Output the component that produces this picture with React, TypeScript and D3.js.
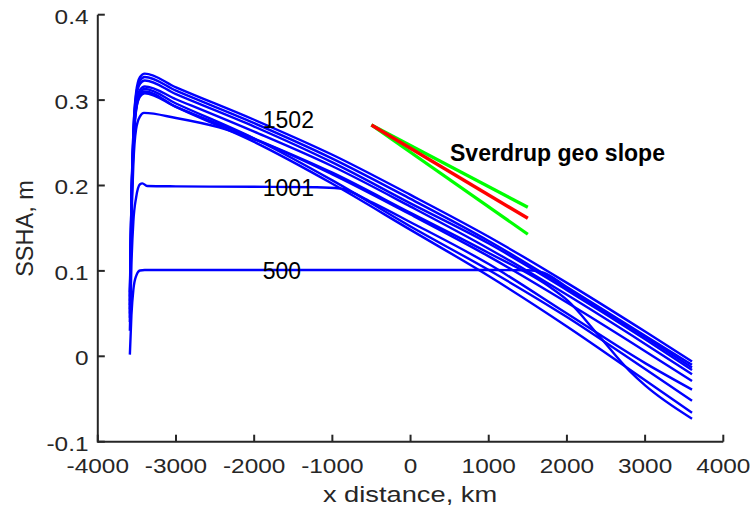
import React from "react";
import * as d3 from "d3";

const W = 752;
const H = 512;

const xTicks = [-4000, -3000, -2000, -1000, 0, 1000, 2000, 3000, 4000];
const xTickLabels = ["-4000", "-3000", "-2000", "-1000", "0", "1000", "2000", "3000", "4000"];
const yTicks = [-0.1, 0, 0.1, 0.2, 0.3, 0.4];
const yTickLabels = ["-0.1", "0", "0.1", "0.2", "0.3", "0.4"];

// SSHA profiles (x km, SSHA m)
const curve500: [number, number][] = [
  [-3590, 0.002], [-3570, 0.048], [-3545, 0.078], [-3510, 0.094], [-3460, 0.1005], [-3400, 0.101],
  [-3000, 0.101], [-2000, 0.101], [-1000, 0.101], [0, 0.101], [1000, 0.101], [1500, 0.1008],
  [1700, 0.098], [2000, 0.081], [3000, 0.024], [3600, -0.010],
];
const curve1001: [number, number][] = [
  [-3590, 0.03], [-3570, 0.107], [-3545, 0.158], [-3510, 0.186], [-3460, 0.2015], [-3430, 0.2025],
  [-3370, 0.1995], [-3000, 0.199], [-2000, 0.1985], [-1200, 0.198], [-900, 0.1965], [-500, 0.1805],
  [0, 0.157], [1000, 0.108], [2000, 0.05], [3000, -0.008], [3600, -0.039],
];
const curve1502: [number, number][] = [
  [-3590, 0.045], [-3570, 0.153], [-3545, 0.225], [-3510, 0.266], [-3460, 0.281], [-3410, 0.285],
  [-3000, 0.279], [-2450, 0.268], [-2000, 0.254], [-1000, 0.213], [0, 0.166], [1000, 0.117],
  [2000, 0.063], [3000, 0.006], [3600, -0.029],
];
const curve2003: [number, number][] = [
  [-3590, 0.06], [-3570, 0.182], [-3545, 0.263], [-3510, 0.309], [-3460, 0.327], [-3400, 0.331],
  [-3000, 0.315], [-2000, 0.277], [-1000, 0.236], [0, 0.189], [1000, 0.14], [2000, 0.086],
  [3000, 0.029], [3600, -0.006],
];
const curve2504: [number, number][] = [
  [-3590, 0.065], [-3570, 0.183], [-3545, 0.262], [-3510, 0.306], [-3460, 0.323], [-3400, 0.327],
  [-3000, 0.311], [-2000, 0.273], [-1000, 0.2315], [0, 0.1843], [1000, 0.135], [2000, 0.08],
  [3000, 0.0225], [3600, -0.013],
];
const curve3005: [number, number][] = [
  [-3590, 0.055], [-3570, 0.176], [-3545, 0.256], [-3510, 0.302], [-3460, 0.319], [-3400, 0.323],
  [-3000, 0.307], [-2000, 0.269], [-1000, 0.227], [0, 0.179], [1000, 0.132], [2000, 0.0775],
  [3000, 0.02], [3600, -0.016],
];
const curve3506: [number, number][] = [
  [-3590, 0.07], [-3570, 0.181], [-3545, 0.255], [-3510, 0.296], [-3460, 0.312], [-3400, 0.316],
  [-3000, 0.301], [-2000, 0.263], [-1000, 0.2225], [0, 0.1753], [1000, 0.126], [2000, 0.072],
  [3000, 0.0145], [3600, -0.021],
];
const curve4007: [number, number][] = [
  [-3590, 0.05], [-3570, 0.168], [-3545, 0.247], [-3510, 0.292], [-3460, 0.309], [-3400, 0.313],
  [-3000, 0.296], [-2000, 0.255], [-1000, 0.206], [0, 0.152], [1000, 0.101], [2000, 0.046],
  [3000, -0.015], [3600, -0.052],
];
const curve4508: [number, number][] = [
  [-3590, 0.04], [-3570, 0.162], [-3545, 0.243], [-3510, 0.288], [-3460, 0.306], [-3400, 0.31],
  [-3000, 0.292], [-2000, 0.251], [-1000, 0.202], [0, 0.148], [1000, 0.094], [2000, 0.035],
  [3000, -0.028], [3600, -0.066],
];
const curve5009: [number, number][] = [
  [-3590, 0.075], [-3570, 0.18], [-3545, 0.25], [-3510, 0.289], [-3460, 0.304], [-3400, 0.308],
  [-3000, 0.292], [-2000, 0.255], [-1000, 0.215], [0, 0.168], [1000, 0.121], [1800, 0.08],
  [2000, 0.066], [2400, 0.025], [2800, -0.017], [3000, -0.034], [3600, -0.073],
];

const profiles = [curve500, curve1001, curve1502, curve2003, curve2504, curve3005, curve3506, curve4007, curve4508, curve5009];

// Sverdrup geostrophic slope lines
const slopeX = [-500, 1500];
const slopeRed = [0.2708, 0.1616];
const slopeGreenUpper = [0.2708, 0.1745];
const slopeGreenLower = [0.2708, 0.1429];

const curveLabels = ["1502", "1001", "500"];
const curveLabelX = [-1890, -1890, -1890];
const curveLabelY = [0.267, 0.1875, 0.0902];

const FONT = "'Liberation Sans', Arial, Helvetica, sans-serif";
const AX = "#262626";

export default function App() {
  const x = d3.scaleLinear().domain([-4000, 4000]).range([97.8, 723.3]);
  const y = d3.scaleLinear().domain([-0.1, 0.4]).range([441.7, 14.7]);
  const line = d3
    .line<[number, number]>()
    .x((d) => x(d[0]))
    .y((d) => y(d[1]))
    .curve(d3.curveMonotoneX);
  const seg = (ys: number[]) =>
    d3.line<number>().x((_, i) => x(slopeX[i])).y((d) => y(d))(ys) || "";

  const x0 = x(-4000);
  const x1 = x(4000);
  const yb = y(-0.1);
  const yt = y(0.4);
  const sx = 1.22;

  return (
    <svg
      width={W}
      height={H}
      style={{ position: "absolute", left: 0, top: 0, background: "#fff" }}
      fontFamily={FONT}
    >
      <rect x={0} y={0} width={W} height={H} fill="#fff" />
      {profiles.map((p, i) => (
        <path key={i} d={line(p) || ""} fill="none" stroke="#0000ff" strokeWidth={2.4} strokeLinejoin="round" />
      ))}
      <path d={seg(slopeGreenUpper)} stroke="#00ff00" strokeWidth={3.2} fill="none" />
      <path d={seg(slopeGreenLower)} stroke="#00ff00" strokeWidth={3.2} fill="none" />
      <path d={seg(slopeRed)} stroke="#ff0000" strokeWidth={3.4} fill="none" />
      <text x={450} y={161} fontSize={23} fontWeight="bold" fill="#000" textLength={215} lengthAdjust="spacingAndGlyphs">
        Sverdrup geo slope
      </text>
      {curveLabels.map((t, i) => (
        <text key={t} x={x(curveLabelX[i])} y={y(curveLabelY[i])} fontSize={23} fill="#000">
          {t}
        </text>
      ))}
      {/* axes */}
      <line x1={x0} x2={x1} y1={yb} y2={yb} stroke={AX} strokeWidth={2} />
      <line x1={x0} x2={x0} y1={yb + 1} y2={yt} stroke={AX} strokeWidth={2} />
      {xTicks.map((t, i) => (
        <g key={t}>
          <line x1={x(t)} x2={x(t)} y1={yb} y2={yb - 7} stroke={AX} strokeWidth={2} />
          <text
            transform={`translate(${x(t)},${yb + 31.5}) scale(${sx},1)`}
            textAnchor="middle"
            fontSize={20}
            fill={AX}
          >
            {xTickLabels[i]}
          </text>
        </g>
      ))}
      {yTicks.map((t, i) => (
        <g key={t}>
          <line x1={x0} x2={x0 + 7} y1={y(t)} y2={y(t)} stroke={AX} strokeWidth={2} />
          <text
            transform={`translate(${88.5},${y(t) + 8.8}) scale(${sx},1)`}
            textAnchor="end"
            fontSize={20}
            fill={AX}
          >
            {yTickLabels[i]}
          </text>
        </g>
      ))}
      <text
        transform={`translate(${410},${502}) scale(1.24,1)`}
        textAnchor="middle"
        fontSize={22}
        fill={AX}
      >
        x distance, km
      </text>
      <text
        transform={`translate(${32.5},${228.5}) rotate(-90)`}
        textAnchor="middle"
        fontSize={23.5}
        fill={AX}
      >
        SSHA, m
      </text>
    </svg>
  );
}
